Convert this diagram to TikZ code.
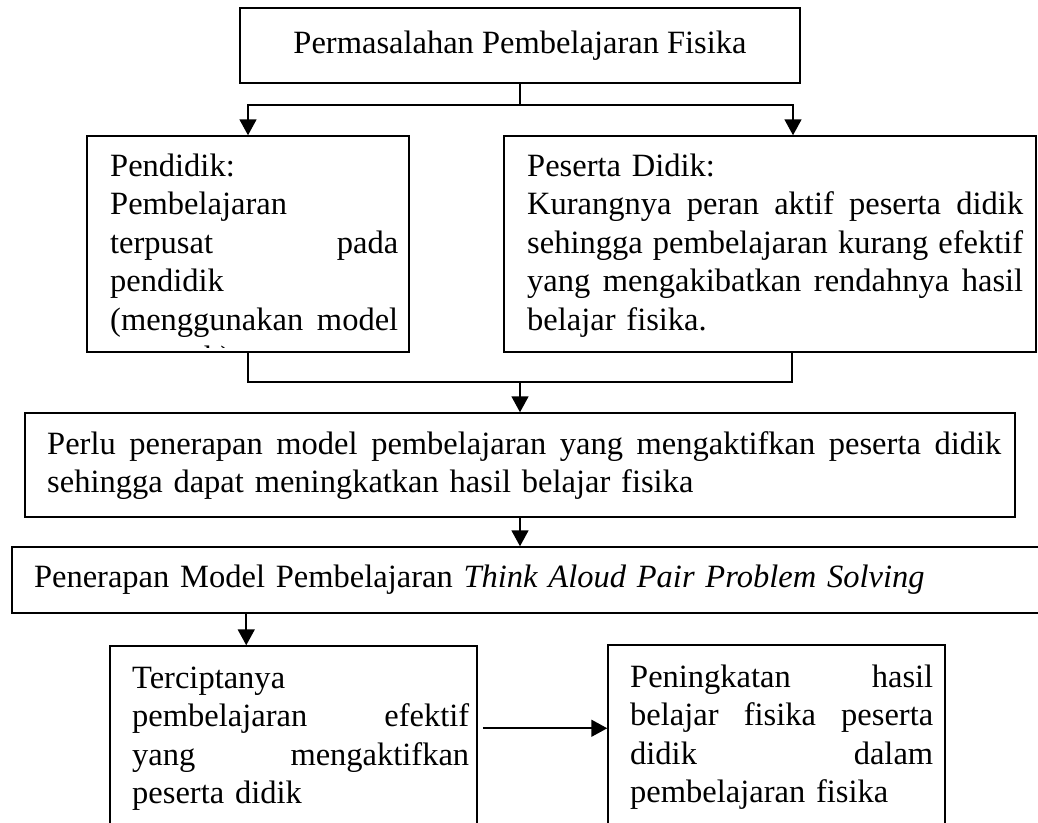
\documentclass[tikz,border=0pt]{standalone}
\usepackage{fontspec}
\setmainfont{Liberation Serif}
\usetikzlibrary{positioning,arrows.meta}
\newlength{\lebar}
\newcommand{\rata}[1]{\leavevmode\hbox to \lebar{\spaceskip=0.25em plus 1fil\relax #1}}

\begin{document}
\begin{tikzpicture}[x=1pt,y=-1pt,
  every node/.style={font=\fontsize{32.5pt}{38.5pt}\selectfont},
  kotak/.style={draw,line width=1.5pt,inner sep=0pt},
  isi/.style={anchor=base west,inner sep=0pt,align=left,text width=#1,
    execute at begin node={\setlength{\lebar}{#1}}},
  garis/.style={line width=1.8pt},
  panah/.style={line width=1.8pt,-{Triangle[width=17pt,length=16pt]}}]
  \useasboundingbox (0,0) rectangle (1038,822);
  \clip (0,0) rectangle (1038,822);

  % kotak
  \node[kotak,minimum width=560,minimum height=75] (ttl) at (520,45.5) {Permasalahan Pembelajaran Fisika};
  \node[kotak,minimum width=322,minimum height=216] (pdk) at (248,244) {};
  \node[kotak,minimum width=532,minimum height=216] (psd) at (770,244) {};
  \node[kotak,minimum width=990,minimum height=104] (prl) at (520,465) {};
  \node[kotak,inner xsep=22pt,text width=989pt,align=left,minimum height=66] (tapps) at (528.5,580)
    {Penerapan Model Pembelajaran \textit{Think Aloud Pair Problem Solving}};
  \node[kotak,minimum width=367,minimum height=194] (cpt) at (293.5,743) {};
  \node[kotak,minimum width=337,minimum height=195] (hsl) at (776.5,742.5) {};

  % isi kotak
  \begin{scope}
    \clip (pdk.north west) rectangle ([yshift=5pt]pdk.south east);
    \node[isi=288pt] (pdkt) at (110,176) {Pendidik:\\ Pembelajaran\\ \rata{terpusat pada}\\ pendidik\\
      \rata{(menggunakan model}\\ ceramah)};
  \end{scope}
  \node[isi=496pt] (psdt) at (527,176) {Peserta Didik:\\ \rata{Kurangnya peran aktif peserta didik}\\
    \rata{sehingga pembelajaran kurang efektif}\\ \rata{yang mengakibatkan rendahnya hasil}\\ belajar fisika.};
  \node[isi=954pt] (prlt) at (47,454) {\rata{Perlu penerapan model pembelajaran yang mengaktifkan peserta didik}\\
    sehingga dapat meningkatkan hasil belajar fisika};
  \node[isi=337pt] (cptt) at (132,688) {Terciptanya\\ \rata{pembelajaran efektif}\\ \rata{yang mengaktifkan}\\ peserta didik};
  \node[isi=303pt] (hslt) at (630,687) {\rata{Peningkatan hasil}\\ \rata{belajar fisika peserta}\\ \rata{didik dalam}\\
    pembelajaran fisika};

  % panah
  \draw[garis] (ttl.south) -- ++(0,21) coordinate (tj);
  \coordinate (tr) at (793,0);
  \draw[panah] (tj) -| (pdk.north);
  \draw[panah] (tj) -| (tr |- psd.north);
  \coordinate (br) at (792,382);
  \draw[garis] (pdk.south) |- (br) -- (br |- psd.south);
  \draw[panah] (prl.north |- br) -- (prl.north);
  \draw[panah] (prl.south) -- (prl.south |- tapps.north);
  \path (tapps.south west) ++(235,0) coordinate (tc);
  \draw[panah] (tc) -- (tc |- cpt.north);
  \path (cpt.north east) ++(5,83) coordinate (ca);
  \draw[panah] (ca) -- (ca -| hsl.west);
\end{tikzpicture}
\end{document}
